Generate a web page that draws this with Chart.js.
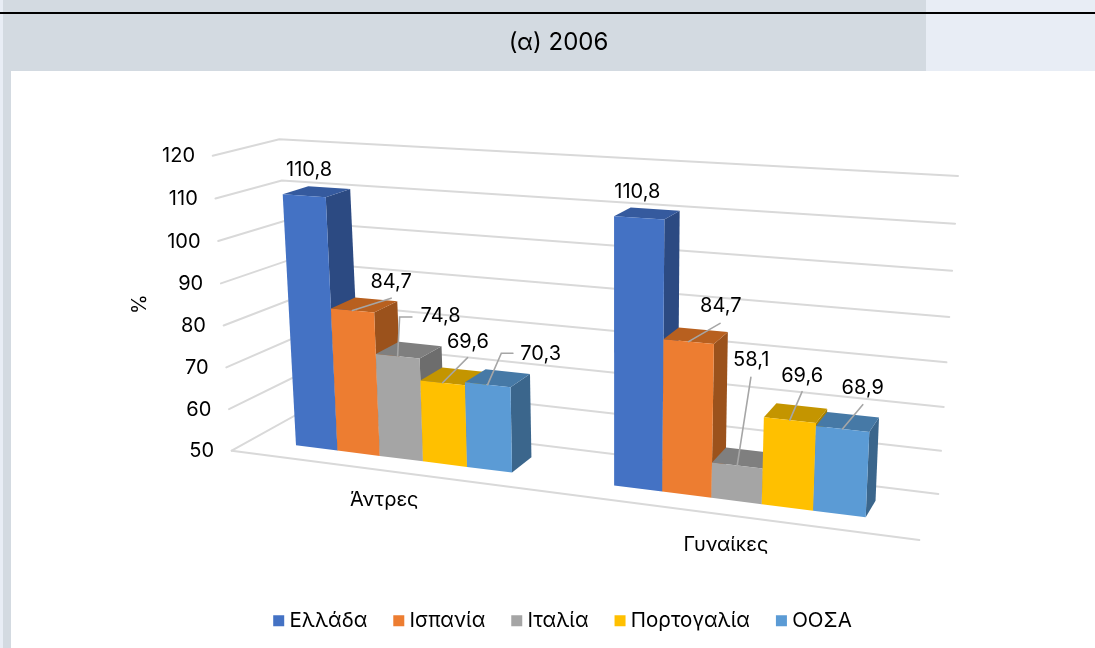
<!DOCTYPE html>
<html lang="el">
<head>
<meta charset="utf-8">
<title>(α) 2006</title>
<script src="https://cdn.jsdelivr.net/npm/chart.js@4"></script>
<style>
html,body{margin:0;padding:0;background:#fff;width:1095px;height:648px;overflow:hidden}
#wrap{position:relative;width:1095px;height:648px}
.bg{position:absolute}
canvas{position:absolute;left:0;top:0}
</style>
</head>
<body>
<div id="wrap">
<div class="bg" style="left:0;top:0;width:1095px;height:71px;background:#e8edf5"></div>
<div class="bg" style="left:0;top:0;width:3px;height:648px;background:#e8edf5"></div>
<div class="bg" style="left:3px;top:0;width:923px;height:71px;background:#d3dae1"></div>
<div class="bg" style="left:3px;top:71px;width:8px;height:577px;background:#d3dae1"></div>
<div class="bg" style="left:0;top:12px;width:1095px;height:2px;background:#000"></div>
<canvas id="c" width="1095" height="648"></canvas>
</div>
<script>
// ---- data ----
const categories = ['Άντρες', 'Γυναίκες'];
const seriesNames = ['Ελλάδα', 'Ισπανία', 'Ιταλία', 'Πορτογαλία', 'ΟΟΣΑ'];
const greece   = [110.8, 110.8];
const spain    = [84.7, 84.7];
const italy    = [74.8, 58.1];
const portugal = [69.6, 69.6];
const oecd     = [70.3, 68.9];
const seriesValues = [greece, spain, italy, portugal, oecd];
const axisMin = 50, axisMax = 120, axisStep = 10;
const titleText = '(α) 2006';
const axisTitle = '%';

// ---- styling ----
const FONT = 'Inter';
const frontColors = ['#4472c4', '#ed7d31', '#a5a5a5', '#ffc000', '#5b9bd5'];
const topColors   = ['#355a9e', '#b8601f', '#7f7f7f', '#c49500', '#4679a6'];
const sideColors  = ['#2c4a82', '#9b521c', '#6d6d6d', '#a67f00', '#3b668c'];

// ---- perspective of the 3-D box (where the flat plot plane lands on the page) ----
const FRONT_QUAD = [[296,445.3],[865.7,517.3],[877.6,233.5],[282.7,194.3]];
const FRONT_REF_TOP = 110.8;
const BACK_QUAD  = [[296,415],[938.3,494],[958,176],[279.3,139.3]];
const LEFT_QUAD  = [[231.7,450.7],[296,415],[279.3,139.3],[212.7,155.7]];
const FLOOR_FRONT = [[231.7,450.7],[919.3,540]];
const DEPTH_VP = [1230,-100], DEPTH_F = 0.027;

// label offsets from each bar's front-top centre, and leader-line bends
const labelOffsets = [
  [[5,-26],[-1.7,-25.3]],
  [[38.7,-28.3],[32.2,-35.5]],
  [[43,-40],[14,-105.2]],
  [[25.3,-40.8],[12.3,-44.5]],
  [[53,-30.5],[20.3,-41]]
];
const leaderBends = [
  [[],[]],
  [[[38.7,-12.3]],[[31.5,-18.2]]],
  [[[2,-39.3],[14.3,-39.3]],[[13.7,-88.2]]],
  [[[25,-25.2]],[[12.3,-28.5]]],
  [[[13.7,-31.5],[25.3,-31.5]],[[20.3,-24.3]]]
];
const categoryOffsets = [[-17,41],[-10.5,44]];
const LEGEND_SHIFT = 6.5;

function quadMap(r, q){
  const [p0,p1,p2,p3] = q;
  const dx1=p1[0]-p2[0], dx2=p3[0]-p2[0], sx=p0[0]-p1[0]+p2[0]-p3[0];
  const dy1=p1[1]-p2[1], dy2=p3[1]-p2[1], sy=p0[1]-p1[1]+p2[1]-p3[1];
  const den=dx1*dy2-dx2*dy1;
  const g=(sx*dy2-dx2*sy)/den, h=(dx1*sy-sx*dy1)/den;
  const a=p1[0]-p0[0]+g*p1[0], b=p3[0]-p0[0]+h*p3[0], c=p0[0];
  const d=p1[1]-p0[1]+g*p1[1], e=p3[1]-p0[1]+h*p3[1], f=p0[1];
  return (u,v)=>{
    const s=(u-r.l)/(r.r-r.l), t=(v-r.b)/(r.t-r.b);
    const w=g*s+h*t+1;
    return [(a*s+b*t+c)/w,(d*s+e*t+f)/w];
  };
}
function back(p){return [p[0]+DEPTH_F*(DEPTH_VP[0]-p[0]),p[1]+DEPTH_F*(DEPTH_VP[1]-p[1])];}
function poly(ctx,pts,fill){
  ctx.beginPath();pts.forEach((p,i)=>i?ctx.lineTo(p[0],p[1]):ctx.moveTo(p[0],p[1]));ctx.closePath();
  ctx.fillStyle=fill;ctx.fill();
}
function line(ctx,pts,color,w){
  ctx.beginPath();pts.forEach((p,i)=>i?ctx.lineTo(p[0],p[1]):ctx.moveTo(p[0],p[1]));
  ctx.strokeStyle=color;ctx.lineWidth=w;ctx.stroke();
}

const perspective3D = {
  id:'perspective3D',
  afterLayout(chart){
    chart.legend.left+=LEGEND_SHIFT;chart.legend.right+=LEGEND_SHIFT;
  },
  beforeDatasetsDraw(chart){
    const ctx=chart.ctx, xS=chart.scales.x, yS=chart.scales.y, area=chart.chartArea;
    const y50=yS.getPixelForValue(axisMin);
    const first=chart.getDatasetMeta(0).data[0], last=chart.getDatasetMeta(seriesValues.length-1).data[categories.length-1];
    const fr={l:first.x-first.width/2,r:last.x+last.width/2,t:yS.getPixelForValue(FRONT_REF_TOP),b:y50};
    const wr={l:area.left,r:area.right,t:yS.getPixelForValue(axisMax),b:y50};
    const front=quadMap(fr,FRONT_QUAD), backW=quadMap(wr,BACK_QUAD), leftW=quadMap(wr,LEFT_QUAD);
    ctx.save();
    ctx.lineCap='round';
    // gridlines and tick labels
    ctx.font='20px '+FONT;ctx.textAlign='right';ctx.textBaseline='middle';
    yS.ticks.forEach(t=>{
      const v=yS.getPixelForValue(t.value);
      const a=leftW(area.left,v), b=backW(area.left,v), c=backW(area.right,v);
      line(ctx,[a,b,c],'#d9d9d9',2);
      ctx.fillStyle='#000';ctx.fillText(String(t.value),a[0]-17.7,a[1]+0.5);
    });
    line(ctx,FLOOR_FRONT,'#d9d9d9',2);
    // bars, left to right, as box solids
    for(let c=0;c<categories.length;c++){
      for(let s=0;s<seriesValues.length;s++){
        const el=chart.getDatasetMeta(s).data[c];
        const l=el.x-el.width/2,r=el.x+el.width/2;
        const tl=front(l,el.y),tr=front(r,el.y),bl=front(l,el.base),br=front(r,el.base);
        poly(ctx,[br,back(br),back(tr),tr],sideColors[s]);
        poly(ctx,[tl,tr,back(tr),back(tl)],topColors[s]);
        poly(ctx,[tl,tr,br,bl],frontColors[s]);
      }
    }
    // leader lines and value labels
    ctx.textAlign='center';
    for(let c=0;c<categories.length;c++){
      for(let s=0;s<seriesValues.length;s++){
        const el=chart.getDatasetMeta(s).data[c];
        const tip=front(el.x,el.y);
        const bends=leaderBends[s][c];
        if(bends.length) line(ctx,[tip].concat(bends.map(o=>[tip[0]+o[0],tip[1]+o[1]])),'#a6a6a6',1.6);
        const o=labelOffsets[s][c];
        ctx.fillStyle='#000';
        ctx.fillText(String(seriesValues[s][c]).replace('.',','),tip[0]+o[0],tip[1]+o[1]);
      }
    }
    // category labels
    categories.forEach((name,i)=>{
      const p=front(xS.getPixelForValue(i),y50), o=categoryOffsets[i];
      ctx.fillStyle='#000';ctx.fillText(name,p[0]+o[0],p[1]+o[1]);
    });
    ctx.restore();
    return false;
  }
};

new Chart(document.getElementById('c'),{
  type:'bar',
  data:{
    labels:categories,
    datasets:seriesNames.map((name,i)=>({label:name,data:seriesValues[i],base:axisMin,backgroundColor:frontColors[i],borderWidth:0}))
  },
  options:{
    responsive:false,animation:false,
    layout:{padding:{left:128,right:138,top:0,bottom:7}},
    datasets:{bar:{barPercentage:1,categoryPercentage:0.695}},
    scales:{
      x:{display:false},
      y:{
        min:axisMin,max:axisMax,
        grid:{display:false},border:{display:false},
        ticks:{display:false,stepSize:axisStep},
        title:{display:true,text:axisTitle,color:'#000',font:{family:FONT,size:20},padding:0}
      }
    },
    plugins:{
      tooltip:{enabled:false},
      title:{display:true,text:titleText,color:'#000',fullSize:false,font:{family:FONT,size:24,weight:'normal'},padding:{top:28,bottom:95}},
      legend:{
        position:'bottom',fullSize:false,
        title:{display:true,text:'',font:{size:10},padding:{top:111,bottom:0}},
        labels:{color:'#000',font:{family:FONT,size:20.5},boxWidth:1,boxHeight:11,usePointStyle:true,pointStyle:'rect',padding:31}
      }
    }
  },
  plugins:[perspective3D]
});
</script>
</body>
</html>
